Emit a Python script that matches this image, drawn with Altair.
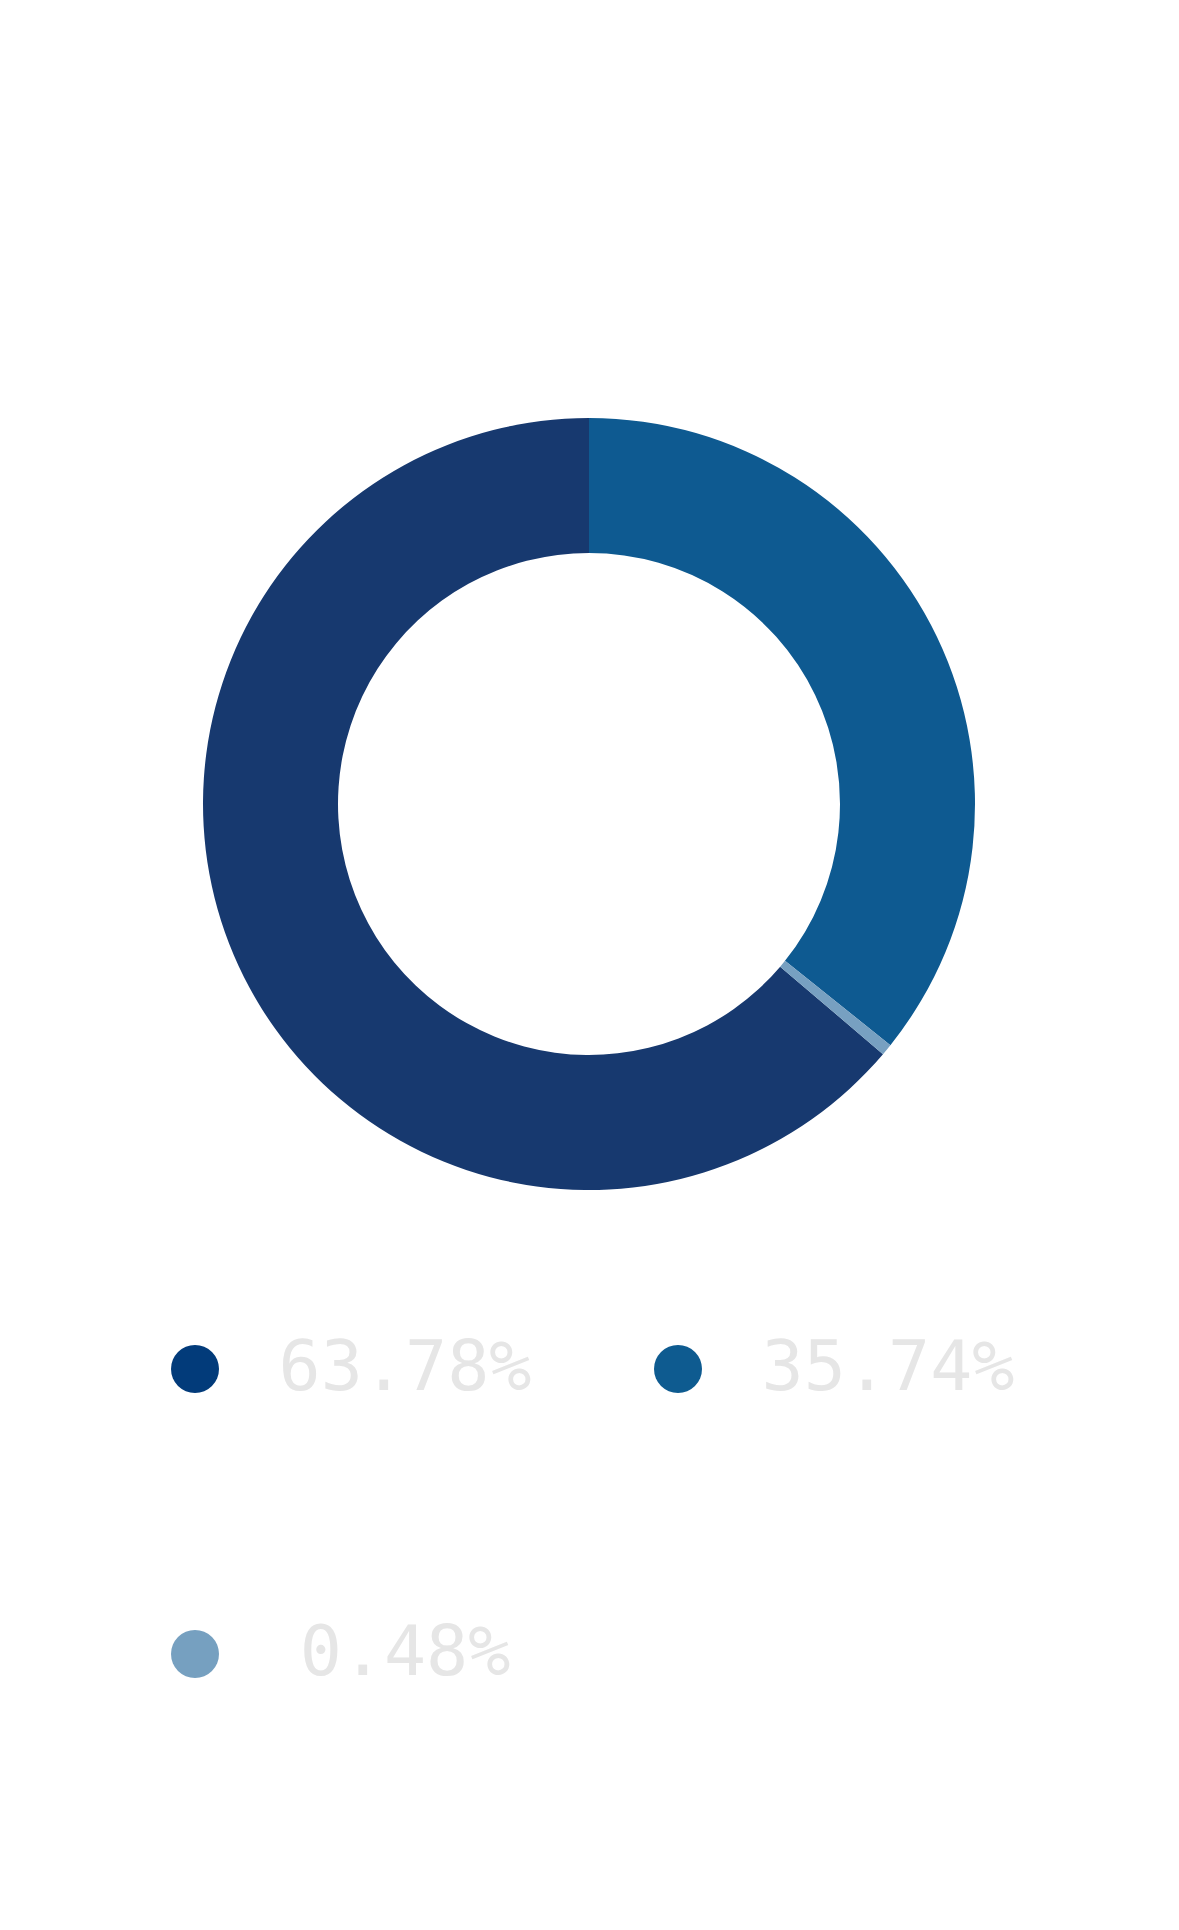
import altair as alt
import pandas as pd

labels = ["63.78%", "35.74%", "0.48%"]
values = [63.78, 35.74, 0.48]
slice_order = [3, 1, 2]
slice_colors = ["#17396f", "#0e5a91", "#77a0c1"]
dot_colors = ["#023b7a", "#0e5b90", "#76a0c0"]
legend_order = ["63.78%", "0.48%", "35.74%"]

df = pd.DataFrame({"label": labels, "value": values, "ord": slice_order})
slice_map = dict(zip(labels, slice_colors))
dot_map = dict(zip(labels, dot_colors))

base = alt.Chart(df).encode(
    theta=alt.Theta("value:Q", stack=True),
    order=alt.Order("ord:Q"),
)

donut = base.mark_arc(outerRadius=386, innerRadius=251).encode(
    color=alt.Color(
        "label:N",
        sort=legend_order,
        scale=alt.Scale(domain=legend_order, range=[slice_map[l] for l in legend_order]),
        legend=None,
    )
)

legend_layer = base.mark_arc(outerRadius=0, innerRadius=0).encode(
    color=alt.Color(
        "label:N",
        sort=legend_order,
        scale=alt.Scale(domain=legend_order, range=[dot_map[l] for l in legend_order]),
        legend=alt.Legend(
            title=None,
            orient="none",
            legendX=152,
            legendY=1326,
            columns=2,
            symbolType="circle",
            symbolSize=2304,
            symbolStrokeWidth=0,
            symbolOpacity=1,
            labelFont="DejaVu Sans Mono",
            labelFontSize=70,
            labelColor="#e6e6e6",
            labelAlign="center",
            labelOffset=175,
            labelLimit=400,
            columnPadding=111,
            rowPadding=215,
            padding=0,
        ),
    )
)

chart = (
    alt.layer(donut, legend_layer)
    .resolve_scale(color="independent")
    .properties(width=1162, height=1592, padding=0)
    .configure_view(stroke=None)
)

chart.save("out.html", embed_options={"renderer": "svg", "actions": False})
